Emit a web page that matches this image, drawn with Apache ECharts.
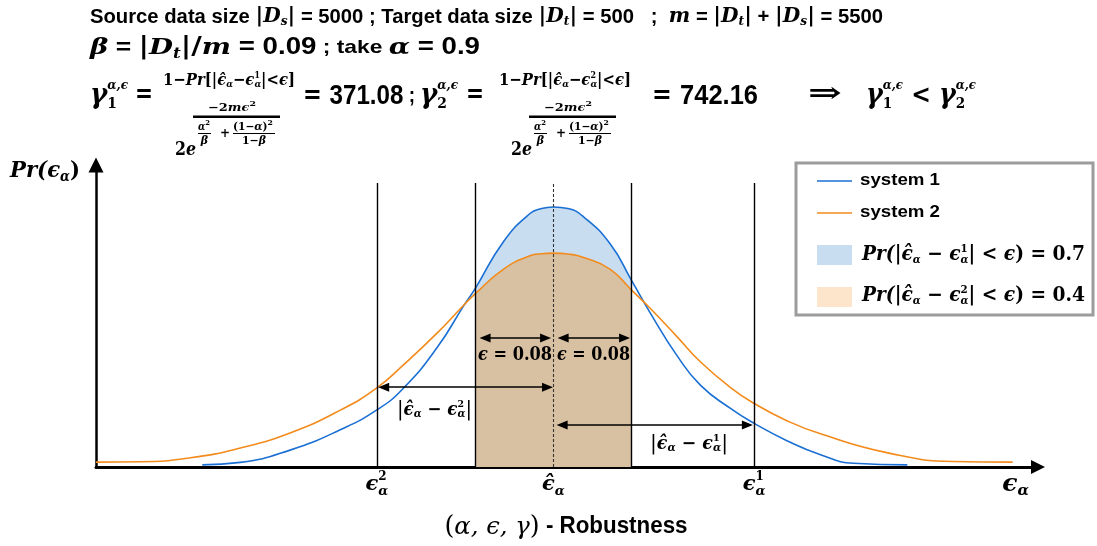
<!DOCTYPE html>
<html><head><meta charset="utf-8">
<script src="https://cdn.jsdelivr.net/npm/echarts@6/dist/echarts.min.js"></script>
<style>html,body{margin:0;padding:0;background:#fff}#c{width:1097px;height:546px}</style>
</head><body><div id="c"></div><script>
// ---- data (x: error units around the estimate, y: relative density) ----
const blueX = [-0.360,-0.321,-0.270,-0.218,-0.181,-0.154,-0.119,-0.092,-0.080,-0.051,-0.024,-0.012,0,0.015,0.031,0.058,0.080,0.099,0.127,0.151,0.182,0.206,0.240,0.274,0.308,0.363];
const blueY = [0.007,0.015,0.055,0.122,0.186,0.256,0.390,0.525,0.582,0.735,0.826,0.842,0.847,0.842,0.815,0.728,0.609,0.504,0.362,0.266,0.190,0.142,0.085,0.040,0.012,0.007];
const orangeX = [-0.469,-0.424,-0.372,-0.321,-0.270,-0.218,-0.181,-0.154,-0.119,-0.092,-0.080,-0.051,-0.024,-0.012,0,0.015,0.031,0.058,0.080,0.099,0.127,0.151,0.182,0.206,0.240,0.274,0.343,0.410,0.471];
const orangeY = [0.016,0.017,0.030,0.062,0.111,0.186,0.258,0.332,0.437,0.527,0.565,0.645,0.688,0.695,0.697,0.694,0.683,0.645,0.577,0.518,0.424,0.342,0.258,0.207,0.150,0.108,0.046,0.018,0.016];
const epsilon = 0.08;
const vlineX = [-0.181, -0.08, 0.08, 0.206];
const vlineTop = 0.925;
const centerX = 0;
const arrowX1 = [-0.070, 0.010, -0.174, 0.009];
const arrowX2 = [-0.008, 0.073, -0.006, 0.199];
const arrowY  = [0.420, 0.420, 0.260, 0.137];
const tickX = [-0.181, 0, 0.206, 0.474];
const tickSup = ['2', '', '1', ''];
const tickHat = [false, true, false, false];
const seriesNames = ['system 1', 'system 2'];
const legendProb = ['0.7', '0.4'];
const gammaValues = ['371.08', '742.16'];

const xMin = -0.469, xMax = 0.497, yMax = 0.984;
const BLUE = '#1a6fd4', ORANGE = '#f28b1c', BLUEFILL = '#c9ddf1', TAN = '#d8c1a2', PEACH = '#fde5cc';

const pairs = (xs, ys) => xs.map((x, i) => [x, ys[i]]);
const inBand = x => x >= -epsilon - 1e-9 && x <= epsilon + 1e-9;
const blue = pairs(blueX, blueY), orange = pairs(orangeX, orangeY);
const blueBand = blue.filter(p => inBand(p[0])), orangeBand = orange.filter(p => inBand(p[0]));

const chart = echarts.init(document.getElementById('c'), null, {renderer: 'canvas'});
const SM = 0.5;
const option = {
  animation: false,
  backgroundColor: '#fff',
  grid: {left: 96, right: 59, top: 165, bottom: 79, containLabel: false, outerBoundsMode: 'none'},
  xAxis: {type: 'value', min: xMin, max: xMax,
    axisLine: {show: true, onZero: false, lineStyle: {color: '#000', width: 3}, symbol: ['none', 'triangle'], symbolSize: [14, 14]},
    axisTick: {show: false}, axisLabel: {show: false}, splitLine: {show: false}},
  yAxis: {type: 'value', min: 0, max: yMax,
    axisLine: {show: true, onZero: false, lineStyle: {color: '#000', width: 2.5}, symbol: ['none', 'triangle'], symbolSize: [15, 15]},
    axisTick: {show: false}, axisLabel: {show: false}, splitLine: {show: false}},
  series: [
    {type: 'line', name: 'band1', data: blueBand, smooth: SM, symbol: 'none', silent: true, z: 1,
     lineStyle: {width: 0, opacity: 0}, areaStyle: {color: BLUEFILL, opacity: 1}},
    {type: 'line', name: 'band2', data: orangeBand, smooth: SM, symbol: 'none', silent: true, z: 2,
     lineStyle: {width: 0, opacity: 0}, areaStyle: {color: TAN, opacity: 1}},
    {type: 'line', name: 'refs', data: [[centerX, 0]], symbol: 'none', silent: true, z: 3, lineStyle: {opacity: 0},
     markLine: {silent: true, symbol: 'none', label: {show: false}, emphasis: {disabled: true},
       lineStyle: {color: '#000', width: 1.4, type: 'solid'},
       data: vlineX.map(x => [{coord: [x, 0]}, {coord: [x, vlineTop]}]).concat([
         [{coord: [centerX, 0], lineStyle: {color: '#333', width: 1.1, type: [3, 2]}}, {coord: [centerX, vlineTop]}]
       ])}},
    {type: 'line', name: 'system 1', data: blue, smooth: SM, symbol: 'none', z: 4, lineStyle: {color: BLUE, width: 1.6}},
    {type: 'line', name: 'system 2', data: orange, smooth: SM, symbol: 'none', z: 4, lineStyle: {color: ORANGE, width: 1.6}},
    {type: 'line', name: 'arrows', data: [[centerX, 0]], symbol: 'none', silent: true, z: 5, lineStyle: {opacity: 0},
     markLine: {silent: true, symbol: ['triangle', 'triangle'], symbolSize: [9, 11], label: {show: false}, emphasis: {disabled: true},
       lineStyle: {color: '#000', width: 1.5, type: 'solid'},
       data: arrowX1.map((x, i) => [{coord: [x, arrowY[i]]}, {coord: [arrowX2[i], arrowY[i]]}])}}
  ]
};
chart.setOption(option);

// ---- tiny inline math layout for the annotations ----
const cv = document.createElement('canvas').getContext('2d');
const FAM = {
  m: '"DejaVu Serif","Liberation Serif",serif',
  u: '"DejaVu Serif","Liberation Serif",serif',
  s: '"Liberation Sans Narrow","Liberation Sans",Arial,sans-serif',
  w: '"Liberation Sans",Arial,sans-serif'
};
const tok = (t, k, size, o) => Object.assign({t, k, size}, o || {});
const M = (t, s, o) => tok(t, 'm', s, o), U = (t, s, o) => tok(t, 'u', s, o), S = (t, s, o) => tok(t, 's', s, o), W = (t, s, o) => tok(t, 'w', s, o);
function fontOf(tk) {
  return {fontStyle: tk.k === 'm' ? 'italic' : 'normal', fontWeight: tk.wt || 'bold', fontSize: tk.size, fontFamily: FAM[tk.k]};
}
function measure(tk) {
  const f = fontOf(tk);
  cv.font = f.fontStyle + ' ' + f.fontWeight + ' ' + f.fontSize + 'px ' + f.fontFamily;
  return cv.measureText(tk.t).width;
}
const G = [];
function run(x0, yc, toks, opt) {
  opt = opt || {};
  let x = 0, last = 0;
  toks.forEach(tk => {
    const w = measure(tk);
    if (tk.stack) { tk.x = last; x = Math.max(x, last + w); } else { tk.x = x; last = x; x += w; }
  });
  const k = opt.width ? opt.width / x : 1;
  let start = x0;
  if (opt.align === 'center') start = x0 - x * k / 2;
  toks.forEach(tk => {
    G.push({type: 'text', x: start + tk.x * k, y: yc + (tk.dy || 0), scaleX: k, z: 100, silent: true,
      style: Object.assign({text: tk.t, fill: opt.fill || '#000', align: 'left', verticalAlign: 'middle'}, fontOf(tk))});
  });
}
function rect(x, y, w, h, fill, z) { G.push({type: 'rect', shape: {x, y, width: w, height: h}, style: {fill}, z: z || 100, silent: true}); }

// header line 1
const bar = (sub, sz) => [U('|', sz + 1), M('D', sz), M(sub, 12, {dy: 5}), U('|', sz + 1)];
run(90, 17, [S('Source data size ', 20)].concat(bar('s', 20), [S(' = 5000 ; Target data size ', 20)], bar('t', 20),
  [S(' = 500   ;  ', 20), M('m', 20), S(' = ', 20)], bar('t', 20), [S(' + ', 20)], bar('s', 20), [S(' = 5500', 20)]), {width: 793});
// header line 2
run(90, 48, [M('β', 23), S(' = ', 22), U('|', 24), M('D', 23), M('t', 14, {dy: 6}), U('|/', 24), M('m', 23),
  S(' = 0.09', 23), S(' ; take ', 19), M('α', 23), S(' = 0.9', 23)], {width: 390});

// header line 3 : gamma fractions
function gamma(x, idx, w) {
  run(x, 96, [M('γ', 28), M('α,ϵ', 13, {dy: -10}), U(idx, 15, {dy: 8, stack: true})], {width: w || 38});
}
function fraction(off, idx) {
  run(163 + off, 81, [U('1−', 17), M('Pr', 17), U('[|', 17), M('ϵ\u0302', 17), M('α', 10, {dy: 3}), U('−', 17), M('ϵ', 17),
    U(idx, 9, {dy: -5}), M('α', 10, {dy: 3, stack: true}), U('|<', 17), M('ϵ', 17), U(']', 17)], {width: 132});
  run(208 + off, 108, [U('−2', 11), M('mϵ', 11), U('2', 8, {dy: -4})], {width: 48});
  rect(193 + off, 115.5, 87, 2.5, '#000');
  run(198 + off, 127, [M('α', 11), U('2', 8, {dy: -4})], {width: 12});
  rect(198 + off, 133, 13, 1, '#000');
  run(204.5 + off, 141, [M('β', 11)], {align: 'center'});
  run(220 + off, 134, [U('+', 12)]);
  run(233 + off, 127, [U('(1−', 11), M('α', 11), U(')', 11), U('2', 8, {dy: -4})], {width: 40});
  rect(233 + off, 133, 42, 1, '#000');
  run(254 + off, 141, [U('1−', 11), M('β', 11)], {align: 'center', width: 24});
  run(175 + off, 150, [U('2', 18), M('e', 18)], {width: 21});
}
gamma(90, '1', 38);
run(135, 95, [U('=', 26)], {width: 18});
fraction(0, '1');
run(303, 96, [U('= ', 26), S(gammaValues[0], 28), S(' ;', 22)], {width: 112});
gamma(420, '2', 38);
run(466, 95, [U('=', 26)], {width: 18});
fraction(336, '2');
run(652, 96, [U('= ', 26), S(gammaValues[1], 28)], {width: 106});
run(808, 95, [U('⇒', 28)], {width: 34});
run(866, 96, [M('γ', 28), M('α,ϵ', 13, {dy: -10}), U('1', 15, {dy: 8, stack: true}), U(' < ', 26),
  M('γ', 28), M('α,ϵ', 13, {dy: -10}), U('2', 15, {dy: 8, stack: true})], {width: 110});

// y axis name
run(10, 171, [M('Pr(ϵ', 23), M('α', 14, {dy: 6}), U(')', 23)], {width: 70});
// bottom title
run(566, 527, [U('(', 26, {wt: 'normal'}), M('α, ϵ, γ', 25, {wt: 'normal'}), U(')', 26, {wt: 'normal'}), S(' - Robustness', 23)], {align: 'center', width: 243});

// x tick labels from data positions
tickX.forEach((x, i) => {
  const px = chart.convertToPixel({gridIndex: 0}, [x, 0])[0];
  if (i === 3) { run(px, 484, [M('ϵ', 25), M('α', 15, {dy: 7})], {align: 'center'}); return; }
  const toks = [M(tickHat[i] ? 'ϵ\u0302' : 'ϵ', 21)];
  if (tickSup[i]) toks.push(U(tickSup[i], 12, {dy: -8}));
  toks.push(M('α', 13, {dy: 7, stack: !!tickSup[i]}));
  run(px, 485, toks, {align: 'center'});
});

// in-plot labels
run(478, 355, [M('ϵ', 19), U(' = 0.08', 19)], {width: 74});
run(557, 355, [M('ϵ', 19), U(' = 0.08', 19)], {width: 73});
function diffLabel(x, y, idx, w) {
  run(x, y, [U('|', 21, {wt: 'normal'}), M('ϵ\u0302', 18), M('α', 11, {dy: 4}), U(' − ', 18), M('ϵ', 18), U(idx, 10, {dy: -6}),
    M('α', 11, {dy: 4, stack: true}), U('|', 21, {wt: 'normal'})], {width: w});
}
diffLabel(397, 410, '2', 75);
diffLabel(650, 444, '1', 78);

// legend box
G.push({type: 'rect', shape: {x: 796, y: 163, width: 297, height: 152}, style: {fill: '#fff', stroke: '#9c9c9c', lineWidth: 3}, z: 90, silent: true});
G.push({type: 'line', shape: {x1: 817, y1: 181, x2: 852, y2: 181}, style: {stroke: BLUE, lineWidth: 1.6}, z: 100, silent: true});
G.push({type: 'line', shape: {x1: 817, y1: 213, x2: 852, y2: 213}, style: {stroke: ORANGE, lineWidth: 1.6}, z: 100, silent: true});
run(860, 180, [W(seriesNames[0], 17)], {width: 80});
run(860, 212, [W(seriesNames[1], 17)], {width: 80});
rect(817, 245, 35, 20, BLUEFILL);
rect(817, 287, 35, 20, PEACH);
function legendMath(y, idx, val) {
  run(862, y, [M('Pr(|ϵ\u0302', 20), M('α', 11, {dy: 5}), U(' − ', 20), M('ϵ', 20), U(idx, 11, {dy: -6}), M('α', 11, {dy: 5, stack: true}),
    U('| < ', 20), M('ϵ', 20), U(') = ' + val, 20)], {width: 223});
}
legendMath(255, '1', legendProb[0]);
legendMath(296, '2', legendProb[1]);

chart.setOption({graphic: G});
</script></body></html>
